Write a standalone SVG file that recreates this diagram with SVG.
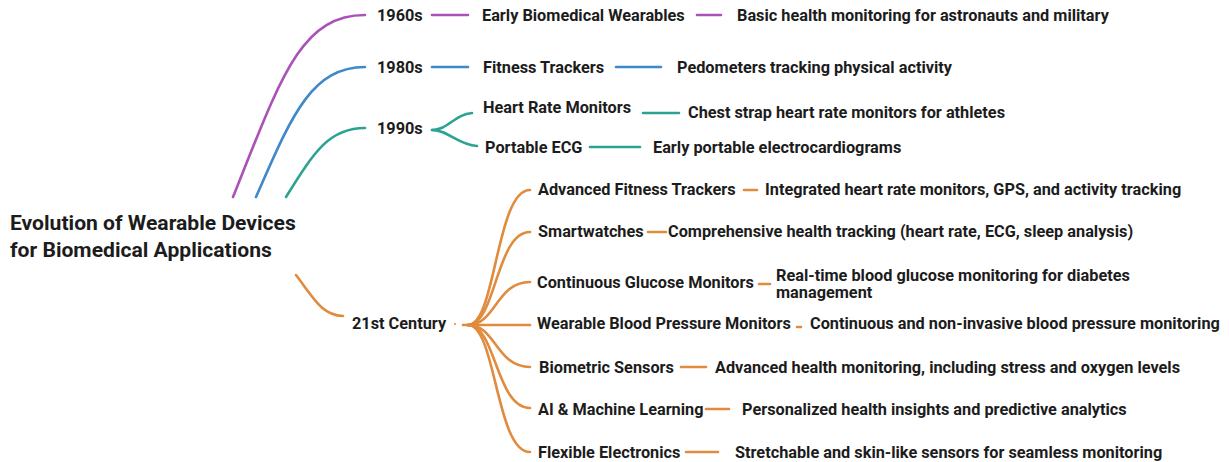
<svg xmlns="http://www.w3.org/2000/svg" width="1229" height="462" viewBox="0 0 1229 462">
<style>
text{font-family:Roboto,"Liberation Sans",Arial,sans-serif;fill:#1c1c1c;font-size:16.3px;font-weight:700}
.title{font-size:21.1px;font-weight:700}
.c{fill:none;stroke-width:2.6;stroke-linecap:round}
.p{stroke:#ab52b7}.b{stroke:#3f89c8}.t{stroke:#2ba392}.o{stroke:#e08b3d}
</style>
<rect width="1229" height="462" fill="#fff"/>
<g id="connectors">
<path class="c p" d="M233 197 C280 80 300 15 365 15"/>
<path class="c b" d="M256 197 C290 120 310 67 365 67"/>
<path class="c t" d="M286 197 C315 150 330 128 365 128"/>
<path class="c o" d="M296 275 C315 300 322 315 343 316"/>
<path class="c p" d="M432 15 H468"/>
<path class="c p" d="M697 15 H721"/>
<path class="c b" d="M432 67 H468"/>
<path class="c b" d="M616 67 H661"/>
<path class="c t" d="M432 130 C448 130 455 114 472 113"/>
<path class="c t" d="M432 130 C448 130 458 145 477 146"/>
<path class="c t" d="M643 113 H679"/>
<path class="c t" d="M590 147 H640"/>
<circle cx="455" cy="324" r="1" fill="#e08b3d"/>
<path class="c o" d="M463 325 H473"/>
<path class="c o" d="M468 325 C496 325 496 190 530 190"/>
<path class="c o" d="M468 325 C496 325 496 232 530 232"/>
<path class="c o" d="M468 325 C496 325 496 282 530 282"/>
<path class="c o" d="M468 325 H530"/>
<path class="c o" d="M468 325 C496 325 496 367 530 367"/>
<path class="c o" d="M468 325 C496 325 496 408 530 408"/>
<path class="c o" d="M468 325 C496 325 496 452 530 452"/>
<path class="c o" d="M744 190 H757"/>
<path class="c o" d="M648 232 H666"/>
<path class="c o" d="M759 284 H770"/>
<path class="c o" d="M797 327 H801"/>
<path class="c o" d="M681 367 H706"/>
<path class="c o" d="M706 409 H729"/>
<path class="c o" d="M686 452 H718"/>
</g>
<g id="root"><text class="title" x="10" y="230">Evolution of Wearable Devices</text><text class="title" x="10" y="257">for Biomedical Applications</text></g>
<g id="n1960"><text x="377" y="21">1960s</text></g>
<g id="n1960a"><text x="482" y="21">Early Biomedical Wearables</text></g>
<g id="n1960b"><text x="737" y="21">Basic health monitoring for astronauts and military</text></g>
<g id="n1980"><text x="377" y="73">1980s</text></g>
<g id="n1980a"><text x="483" y="73">Fitness Trackers</text></g>
<g id="n1980b"><text x="677" y="73">Pedometers tracking physical activity</text></g>
<g id="n1990"><text x="377" y="134">1990s</text></g>
<g id="n1990a"><text x="483" y="113">Heart Rate Monitors</text></g>
<g id="n1990a1"><text x="688" y="118">Chest strap heart rate monitors for athletes</text></g>
<g id="n1990b"><text x="485" y="153">Portable ECG</text></g>
<g id="n1990b1"><text x="653" y="153">Early portable electrocardiograms</text></g>
<g id="n21"><text x="352" y="329">21st Century</text></g>
<g id="a1"><text x="538" y="195">Advanced Fitness Trackers</text></g>
<g id="a1d"><text x="765" y="195">Integrated heart rate monitors, GPS, and activity tracking</text></g>
<g id="a2"><text x="538" y="237">Smartwatches</text></g>
<g id="a2d"><text x="668" y="237">Comprehensive health tracking (heart rate, ECG, sleep analysis)</text></g>
<g id="a3"><text x="537" y="288">Continuous Glucose Monitors</text></g>
<g id="a3d"><text x="776" y="281">Real-time blood glucose monitoring for diabetes</text><text x="776" y="298">management</text></g>
<g id="a4"><text x="537" y="329">Wearable Blood Pressure Monitors</text></g>
<g id="a4d"><text x="810" y="329">Continuous and non-invasive blood pressure monitoring</text></g>
<g id="a5"><text x="539" y="373">Biometric Sensors</text></g>
<g id="a5d"><text x="715" y="373">Advanced health monitoring, including stress and oxygen levels</text></g>
<g id="a6"><text x="538" y="415">AI &amp; Machine Learning</text></g>
<g id="a6d"><text x="742" y="415">Personalized health insights and predictive analytics</text></g>
<g id="a7"><text x="538" y="458">Flexible Electronics</text></g>
<g id="a7d"><text x="735" y="458">Stretchable and skin-like sensors for seamless monitoring</text></g>
</svg>
